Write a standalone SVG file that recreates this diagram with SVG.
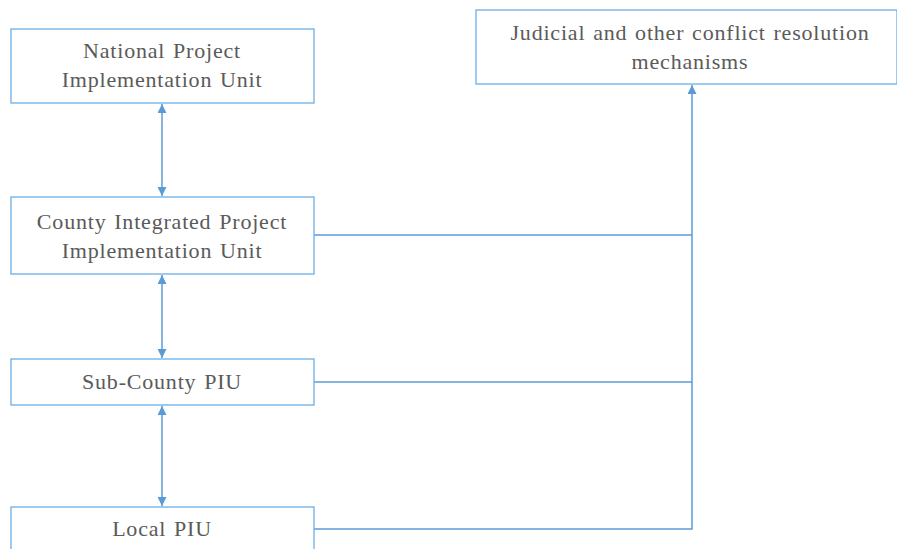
<svg xmlns="http://www.w3.org/2000/svg" width="897" height="549" viewBox="0 0 897 549">
<style>
.box{fill:#ffffff;stroke:#6aaee8;stroke-width:1.3}
.t{font-family:"Liberation Serif","Times New Roman",serif;font-size:22px;letter-spacing:0.8px;word-spacing:1.5px;fill:#5a5a5a;text-anchor:middle}
.ln{fill:none;stroke:#5b9bd5;stroke-width:1.5}
</style>
<defs>
<marker id="ah" viewBox="0 0 10 10" refX="10" refY="5" markerWidth="9" markerHeight="9" markerUnits="userSpaceOnUse" orient="auto-start-reverse">
<path d="M0,0 L10,5 L0,10 z" fill="#5b9bd5"/>
</marker>
</defs>
<rect width="897" height="549" fill="#ffffff"/>
<g id="connectors">
<line class="ln" x1="162" y1="104" x2="162" y2="196" marker-start="url(#ah)" marker-end="url(#ah)"/>
<line class="ln" x1="162" y1="275" x2="162" y2="358" marker-start="url(#ah)" marker-end="url(#ah)"/>
<line class="ln" x1="162" y1="406" x2="162" y2="506" marker-start="url(#ah)" marker-end="url(#ah)"/>
<polyline class="ln" points="314,235 692,235"/>
<polyline class="ln" points="314,382 692,382"/>
<polyline class="ln" points="314,529 692,529 692,85" marker-end="url(#ah)"/>
</g>
<g id="national">
<rect class="box" x="11" y="29" width="303" height="74"/>
<text class="t" x="162" y="58">National Project</text>
<text class="t" x="162" y="87">Implementation Unit</text>
</g>
<g id="judicial">
<rect class="box" x="476" y="10" width="421" height="74"/>
<text class="t" x="690" y="40">Judicial and other conflict resolution</text>
<text class="t" x="690" y="69">mechanisms</text>
</g>
<g id="county">
<rect class="box" x="11" y="197" width="303" height="77"/>
<text class="t" x="162" y="229">County Integrated Project</text>
<text class="t" x="162" y="258">Implementation Unit</text>
</g>
<g id="subcounty">
<rect class="box" x="11" y="359" width="303" height="46"/>
<text class="t" x="162" y="389">Sub-County PIU</text>
</g>
<g id="local">
<rect class="box" x="11" y="507" width="303" height="60"/>
<text class="t" x="162" y="536">Local PIU</text>
</g>
</svg>
